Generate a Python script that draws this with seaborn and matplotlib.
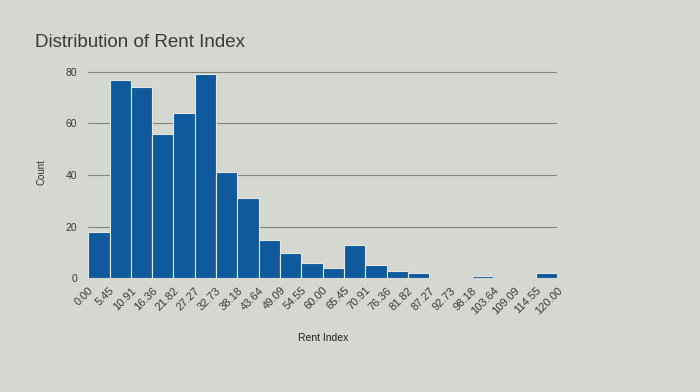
import seaborn as sns
import matplotlib.pyplot as plt
import numpy as np
import pandas as pd

# Data: 22 equal-width bins between 0 and 120
bin_edges = np.linspace(0, 120, 23)
counts = [18, 77, 74, 56, 64, 79, 41, 31, 15, 10, 6, 4, 13, 5, 3, 2, 0, 0, 1, 0, 0, 2]
tick_labels = [f"{e:.2f}" for e in bin_edges]

bin_centers = (bin_edges[:-1] + bin_edges[1:]) / 2
df = pd.DataFrame({"rent_index": bin_centers, "count": counts})

sns.set_style("white")
plt.rcParams['font.family'] = ['Liberation Sans', 'DejaVu Sans']
bg = "#d5d7d1"

fig = plt.figure(figsize=(7, 3.92), dpi=100, facecolor=bg)
ax = fig.add_axes([0.126, 0.29, 0.67, 0.54], facecolor=bg)

sns.histplot(data=df, x="rent_index", weights="count", bins=list(bin_edges),
             color="#0f5a9c", alpha=1, edgecolor="#e4e6e0", linewidth=0.8, ax=ax)

ax.set_xlim(0, 120)
ax.set_ylim(0, 82)
ax.set_yticks([0, 20, 40, 60, 80])
ax.yaxis.grid(True, color="#85857d", linewidth=0.8)
ax.set_axisbelow(True)
for s in ax.spines.values():
    s.set_visible(False)

ax.set_xticks(bin_edges)
ax.set_xticklabels(tick_labels, rotation=45, ha="right", rotation_mode="anchor",
                   fontsize=8, color="#3a3a3a")
ax.tick_params(axis="y", labelsize=7.5, labelcolor="#3a3a3a", length=0, pad=8)
ax.tick_params(axis="x", length=0, pad=5)

ax.set_xlabel("Rent Index", fontsize=7.5, color="#222222", labelpad=12)
ax.set_ylabel("Count", fontsize=7, color="#333333", labelpad=14)

fig.text(0.05, 0.88, "Distribution of Rent Index", fontsize=13.5, color="#3a3a3a")

fig.savefig("out.png", dpi=100, facecolor=bg)
